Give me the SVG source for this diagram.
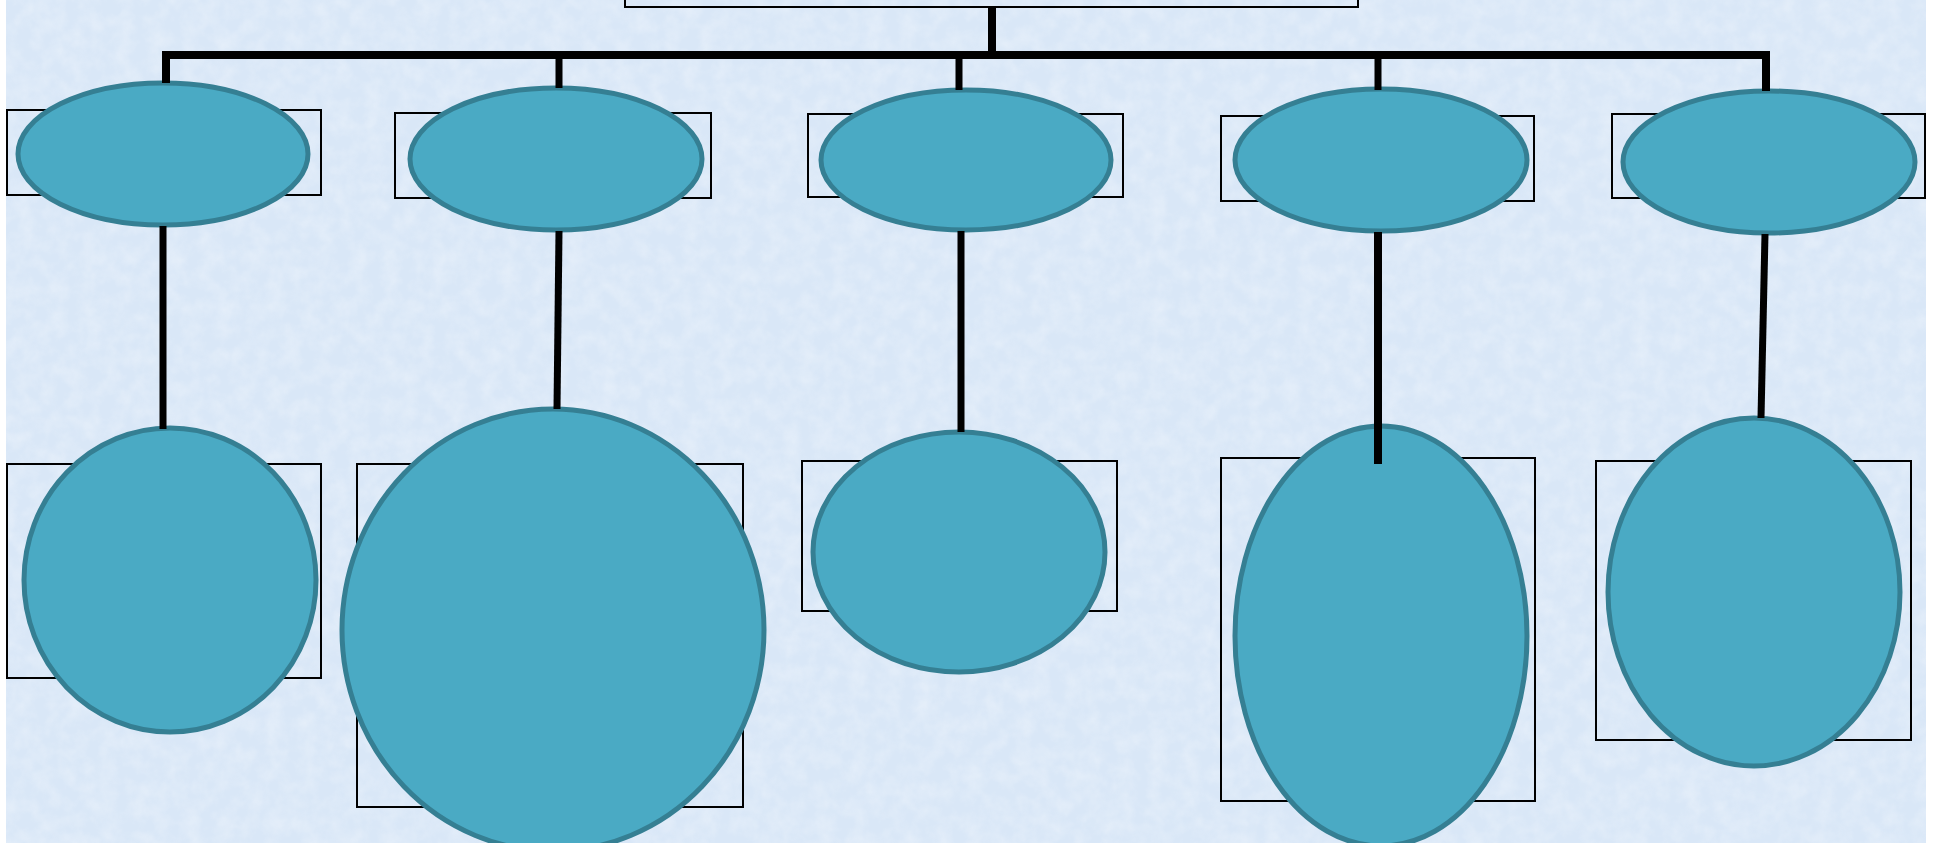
<svg xmlns="http://www.w3.org/2000/svg" width="1935" height="843" viewBox="0 0 1935 843">
  <defs>
    <filter id="tex" x="0" y="0" width="100%" height="100%">
      <feTurbulence type="fractalNoise" baseFrequency="0.06" numOctaves="3" seed="4" result="n"/>
      <feColorMatrix type="matrix" in="n" values="0 0 0 0 1  0 0 0 0 1  0 0 0 0 1  0 0 0 0.9 -0.3" result="w"/>
      <feComposite in="w" in2="SourceGraphic" operator="in"/>
    </filter>
    <style>
      .box { fill: none; stroke: #000; stroke-width: 2; }
      .oval { fill: #4aaac4; stroke: #357f93; stroke-width: 5; }
      .wire { stroke: #000; fill: none; stroke-linecap: butt; }
    </style>
  </defs>

  <rect x="0" y="0" width="1935" height="843" fill="#ffffff"/>
  <rect x="6" y="0" width="1920" height="843" fill="#d9e7f7"/>
  <rect x="6" y="0" width="1920" height="843" fill="#d9e7f7" filter="url(#tex)" opacity="0.55"/>

  <g id="root">
    <rect class="box" x="625" y="-10" width="733" height="17"/>
  </g>

  <g id="n1">
    <rect class="box" x="7" y="110" width="314" height="85"/>
    <ellipse class="oval" cx="163" cy="154" rx="145" ry="71"/>
  </g>
  <g id="n2">
    <rect class="box" x="395" y="113" width="316" height="85"/>
    <ellipse class="oval" cx="556" cy="159" rx="146" ry="71"/>
  </g>
  <g id="n3">
    <rect class="box" x="808" y="114" width="315" height="83"/>
    <ellipse class="oval" cx="966" cy="160" rx="145" ry="70"/>
  </g>
  <g id="n4">
    <rect class="box" x="1221" y="116" width="313" height="85"/>
    <ellipse class="oval" cx="1381" cy="160" rx="146" ry="71"/>
  </g>
  <g id="n5">
    <rect class="box" x="1612" y="114" width="313" height="84"/>
    <ellipse class="oval" cx="1769" cy="162" rx="146" ry="71"/>
  </g>

  <g id="c1">
    <rect class="box" x="7" y="464" width="314" height="214"/>
    <ellipse class="oval" cx="170" cy="580" rx="146" ry="152"/>
  </g>
  <g id="c2">
    <rect class="box" x="357" y="464" width="386" height="343"/>
    <ellipse class="oval" cx="553" cy="630" rx="211" ry="221"/>
  </g>
  <g id="c3">
    <rect class="box" x="802" y="461" width="315" height="150"/>
    <ellipse class="oval" cx="959" cy="552" rx="146" ry="120"/>
  </g>
  <g id="c4">
    <rect class="box" x="1221" y="458" width="314" height="343"/>
    <ellipse class="oval" cx="1381" cy="636" rx="146" ry="210"/>
  </g>
  <g id="c5">
    <rect class="box" x="1596" y="461" width="315" height="279"/>
    <ellipse class="oval" cx="1754" cy="592" rx="146" ry="174"/>
  </g>

  <g id="connectors">
    <line class="wire" x1="992" y1="6" x2="992" y2="55" stroke-width="8"/>
    <line class="wire" x1="162" y1="55" x2="1770" y2="55" stroke-width="8"/>
    <line class="wire" x1="166" y1="51" x2="166" y2="83" stroke-width="8"/>
    <line class="wire" x1="559" y1="55" x2="559" y2="88" stroke-width="7"/>
    <line class="wire" x1="959" y1="55" x2="959" y2="90" stroke-width="7"/>
    <line class="wire" x1="1378" y1="55" x2="1378" y2="90" stroke-width="7"/>
    <line class="wire" x1="1766" y1="51" x2="1766" y2="91" stroke-width="8"/>

    <line class="wire" x1="163" y1="226" x2="163" y2="429" stroke-width="7"/>
    <line class="wire" x1="559" y1="231" x2="557" y2="409" stroke-width="7"/>
    <line class="wire" x1="961" y1="231" x2="961" y2="432" stroke-width="7"/>
    <line class="wire" x1="1378" y1="232" x2="1378" y2="464" stroke-width="8"/>
    <line class="wire" x1="1765" y1="234" x2="1761" y2="418" stroke-width="7"/>
  </g>
</svg>
